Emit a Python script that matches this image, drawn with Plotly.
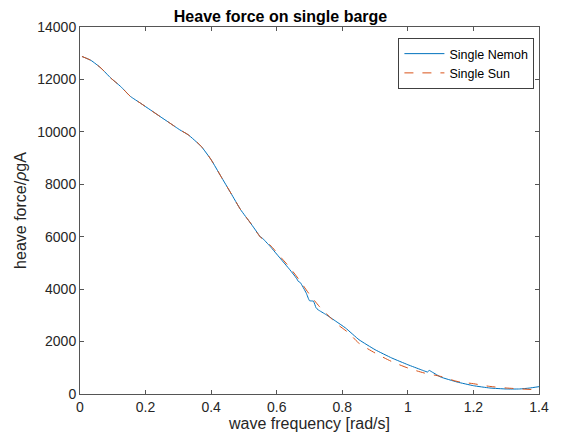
import plotly.graph_objects as go

# Single Nemoh (blue, solid)
nemoh_x = [0.006, 0.034, 0.064, 0.094, 0.124, 0.154, 0.184, 0.214, 0.244, 0.274, 0.304, 0.33,
           0.37, 0.40, 0.43, 0.46, 0.49, 0.52, 0.545, 0.55, 0.555, 0.58, 0.61, 0.64, 0.66, 0.666,
           0.672, 0.69, 0.70, 0.712, 0.72, 0.726, 0.751, 0.781, 0.81, 0.851, 0.90, 0.951, 1.0,
           1.04, 1.05, 1.06, 1.065, 1.075, 1.10, 1.15, 1.20, 1.25, 1.30, 1.34, 1.37, 1.40]
nemoh_y = [12876, 12723, 12433, 12052, 11731, 11350, 11098, 10843, 10587, 10335, 10080, 9889,
           9443, 8936, 8299, 7666, 7029, 6522, 6080, 5990, 5960, 5630, 5187, 4741, 4420, 4295,
           4250, 3852, 3560, 3540, 3290, 3215, 3024, 2769, 2517, 2071, 1690, 1373, 1117,
           927, 880, 840, 900, 830, 648, 458, 317, 229, 191, 191, 225, 280]

# Single Sun (orange, dashed)
sun_x = [0.006, 0.034, 0.064, 0.094, 0.124, 0.154, 0.184, 0.214, 0.244, 0.274, 0.304, 0.33,
         0.37, 0.40, 0.43, 0.46, 0.49, 0.52, 0.55, 0.58, 0.61, 0.64, 0.67, 0.70, 0.73, 0.76,
         0.79, 0.82, 0.85, 0.90, 0.95, 1.0, 1.05, 1.10, 1.15, 1.20, 1.25, 1.30, 1.35, 1.40]
sun_y = [12876, 12723, 12433, 12052, 11731, 11350, 11098, 10843, 10587, 10335, 10080, 9889,
         9443, 8936, 8299, 7666, 7029, 6522, 5990, 5680, 5250, 4820, 4330, 3800, 3340, 2960,
         2610, 2326, 1945, 1564, 1243, 992, 801, 671, 481, 393, 290, 229, 191, 155]

x_ticks = [0, 0.2, 0.4, 0.6, 0.8, 1, 1.2, 1.4]
y_ticks = [0, 2000, 4000, 6000, 8000, 10000, 12000, 14000]

FONT = "Arial, Liberation Sans, Helvetica"

fig = go.Figure()
fig.add_trace(go.Scatter(x=nemoh_x, y=nemoh_y, mode="lines", name="Single Nemoh",
                         line=dict(color="#0072BD", width=1, shape="spline", smoothing=0.4)))
fig.add_trace(go.Scatter(x=sun_x, y=sun_y, mode="lines", name="Single Sun",
                         line=dict(color="#D95319", width=1, dash="dash",
                                   shape="spline", smoothing=0.7)))

axis_common = dict(showgrid=False, zeroline=False, showline=True, linecolor="#555555",
                   linewidth=1, mirror="ticks", ticks="inside", ticklen=4, tickcolor="#555555",
                   tickfont=dict(family=FONT, size=14, color="#262626"))

fig.update_layout(
    width=561, height=443,
    margin=dict(l=80, r=15, t=27, b=49),
    paper_bgcolor="white", plot_bgcolor="white",
    title=dict(text="<b>Heave force on single barge</b>", x=0.5, xanchor="center",
               y=1 - 16 / 443, yanchor="middle",
               font=dict(family=FONT, size=16, color="black")),
    xaxis=dict(range=[0, 1.4], tickvals=x_ticks, ticktext=[str(v) for v in x_ticks],
               title=dict(text="wave frequency [rad/s]", standoff=4,
                          font=dict(family=FONT, size=16, color="#262626")),
               **axis_common),
    yaxis=dict(range=[0, 14000], tickvals=y_ticks, ticktext=[str(v) for v in y_ticks],
               title=dict(text="heave force/<i>ρ</i>gA", standoff=6,
                          font=dict(family=FONT, size=16, color="#262626")),
               **axis_common),
    showlegend=True,
    legend=dict(x=0.99, xanchor="right", y=0.97, yanchor="top",
                bgcolor="white", bordercolor="#404040", borderwidth=1,
                font=dict(family=FONT, size=12.5, color="black"),
                tracegroupgap=0, itemwidth=40),
)

fig.write_html("out.html")
